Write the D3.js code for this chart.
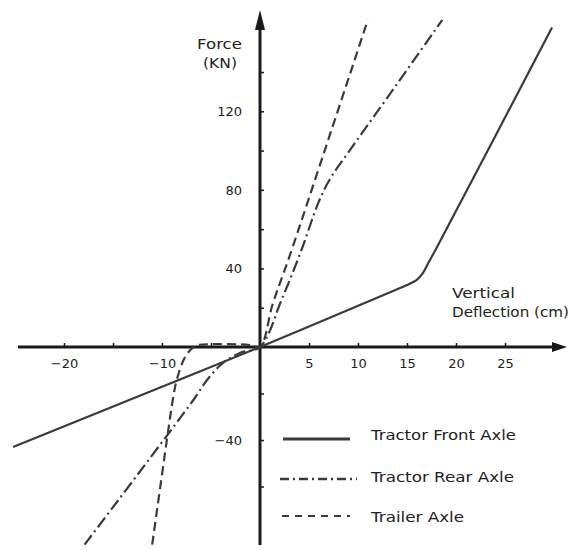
<!DOCTYPE html>
<html><head><meta charset="utf-8">
<script src="https://cdn.jsdelivr.net/npm/d3@7"></script>
<style>
body{margin:0;background:#fff}
text{font-family:"DejaVu Sans",sans-serif;fill:#222}
</style>
</head><body>
<svg id="c" width="572" height="550"></svg>
<script>
// ---- data (deflection in cm, force in kN) ----
const frontX = [-25.2, -15.3, 0, 14, 15.2, 16.0, 16.6, 17.2, 18.0, 29.8];
const frontY = [-43, -26.1, 0, 29.4, 32, 34.2, 37.5, 43, 50.3, 162.6];
const rearX = [-17.9, -6.8, -5.4, -3.8, -2, 0, 2.2, 4.2, 6.0, 7.2, 9, 13, 18.6];
const rearY = [-85, -22.8, -14.2, -6.9, -2.5, 0, 24, 49, 74, 86, 99, 127, 166.5];
const trailerX = [-11, -9.3, -8.9, -8.5, -7.6, -6.6, -5.5, -1, 0, 1.3, 3, 6.6, 11];
const trailerY = [-85, -34, -22.8, -14.2, -4, 0.5, 1.3, 1.0, 0, 22, 46, 100, 166.5];
const seriesNames = ["Tractor Front Axle", "Tractor Rear Axle", "Trailer Axle"];
const xTicks = [-20, -15, -10, -5, 5, 10, 15, 20, 25];
const xTickLabels = [-20, -10, 5, 10, 15, 20, 25];
const yTicks = [-60, -40, -20, 20, 40, 60, 80, 100, 120, 140];
const yTickLabels = [-40, 40, 80, 120];

const svg = d3.select("#c");
const x = d3.scaleLinear().domain([-20, 25]).range([64, 505]);
// the original drawing uses a slightly larger scale below zero
const y = d3.scaleLinear().domain([-80, 0, 140]).range([533, 347, 72]);

const ink = "#1a1a1a", lineCol = "#3a3a3a";
const fmt = d => d < 0 ? "\u2212" + Math.abs(d) : String(d);

// axes lines with arrows
const X0 = x(0), Y0 = y(0);
svg.append("line").attr("x1", 18).attr("x2", 556).attr("y1", Y0).attr("y2", Y0)
  .attr("stroke", ink).attr("stroke-width", 3);
svg.append("path").attr("d", `M567,${Y0} L552,${Y0-5} L552,${Y0+5} Z`).attr("fill", ink);
svg.append("line").attr("x1", X0).attr("x2", X0).attr("y1", 545).attr("y2", 24)
  .attr("stroke", ink).attr("stroke-width", 3);
svg.append("path").attr("d", `M${X0},10 L${X0-5},30 L${X0+5},30 Z`).attr("fill", ink);

// ticks via d3 axes
const xAxis = d3.axisBottom(x).tickValues(xTicks).tickSize(-4).tickPadding(12)
  .tickFormat(d => xTickLabels.includes(d) ? fmt(d) : "");
const gx = svg.append("g").attr("transform", `translate(0,${Y0})`).call(xAxis);
gx.select(".domain").remove();
gx.selectAll(".tick line").attr("stroke", ink).attr("stroke-width", 1.5);
gx.selectAll(".tick text").attr("font-size", 13).attr("font-family", "DejaVu Sans").attr("fill", "#222");

const yAxis = d3.axisLeft(y).tickValues(yTicks).tickSize(-4).tickPadding(18)
  .tickFormat(d => yTickLabels.includes(d) ? fmt(d) : "");
const gy = svg.append("g").attr("transform", `translate(${X0},0)`).call(yAxis);
gy.select(".domain").remove();
gy.selectAll(".tick line").attr("stroke", ink).attr("stroke-width", 1.5);
gy.selectAll(".tick text").attr("font-size", 13).attr("font-family", "DejaVu Sans").attr("fill", "#222");

// axis titles
svg.append("text").attr("x", 197).attr("y", 49).attr("font-size", 14)
  .attr("textLength", 45).attr("lengthAdjust", "spacingAndGlyphs").text("Force");
svg.append("text").attr("x", 203).attr("y", 68).attr("font-size", 14)
  .attr("textLength", 34).attr("lengthAdjust", "spacingAndGlyphs").text("(KN)");
svg.append("text").attr("x", 452).attr("y", 298).attr("font-size", 14)
  .attr("textLength", 63).attr("lengthAdjust", "spacingAndGlyphs").text("Vertical");
svg.append("text").attr("x", 452).attr("y", 317).attr("font-size", 14)
  .attr("textLength", 117).attr("lengthAdjust", "spacingAndGlyphs").text("Deflection (cm)");

// curves
const line = d3.line().x(d => x(d[0])).y(d => y(d[1])).curve(d3.curveCatmullRom.alpha(0.5));
const series = [
  {xs: frontX, ys: frontY, dash: null},
  {xs: rearX, ys: rearY, dash: "12,4,2,4"},
  {xs: trailerX, ys: trailerY, dash: "9,5"}
];
series.forEach(s => {
  const pts = s.xs.map((v, i) => [v, s.ys[i]]);
  svg.append("path").attr("d", line(pts)).attr("fill", "none")
    .attr("stroke", lineCol).attr("stroke-width", 2.2)
    .attr("stroke-dasharray", s.dash);
});

// legend
const legY = [439, 479, 516];
const legTextY = [440, 482, 522];
const legLen = [145, 143, 93];
const legX1 = [283, 280, 282], legX2 = [350, 357, 350];
const legDash = [null, "9,4,2,4", "7,6"];
const legW = [3, 2.5, 2];
seriesNames.forEach((name, i) => {
  svg.append("line").attr("x1", legX1[i]).attr("x2", legX2[i])
    .attr("y1", legY[i]).attr("y2", legY[i])
    .attr("stroke", lineCol).attr("stroke-width", legW[i])
    .attr("stroke-dasharray", legDash[i]);
  svg.append("text").attr("x", 371).attr("y", legTextY[i]).attr("font-size", 13.5)
    .attr("textLength", legLen[i]).attr("lengthAdjust", "spacingAndGlyphs").text(name);
});
</script>
</body></html>
